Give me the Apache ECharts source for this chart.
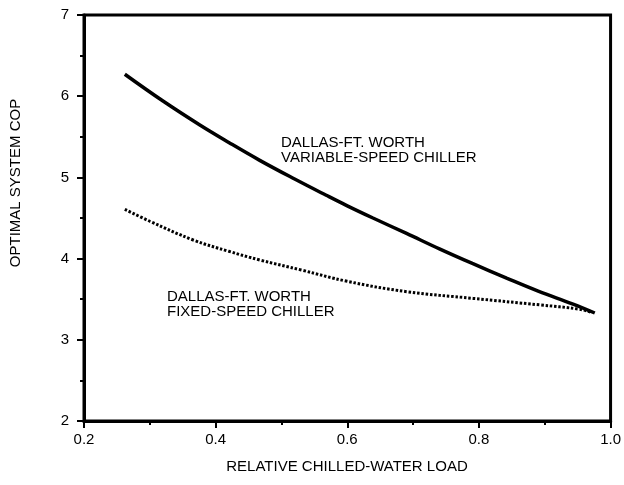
<!DOCTYPE html>
<html>
<head>
<meta charset="utf-8">
<script src="https://cdn.jsdelivr.net/npm/echarts@6/dist/echarts.min.js"></script>
<style>
html,body{margin:0;padding:0;background:#fff;}
#c{width:624px;height:485px;}
</style>
</head>
<body>
<div id="c"></div>
<script>
const variableSpeed = [
  [0.262, 6.27], [0.32, 5.94], [0.376, 5.645], [0.42, 5.43], [0.467, 5.21],
  [0.52, 4.98], [0.568, 4.78], [0.60, 4.65], [0.639, 4.50], [0.69, 4.31],
  [0.740, 4.12], [0.79, 3.94], [0.842, 3.76], [0.89, 3.60], [0.943, 3.44], [0.976, 3.33]
];
const fixedSpeed = [
  [0.262, 4.607], [0.30, 4.46], [0.366, 4.229], [0.42, 4.09], [0.467, 3.983],
  [0.53, 3.86], [0.60, 3.72], [0.690, 3.593], [0.791, 3.51], [0.892, 3.43],
  [0.953, 3.376], [0.972, 3.335]
];
const xTitle = 'RELATIVE CHILLED-WATER LOAD';
const yTitle = 'OPTIMAL SYSTEM COP';
const varLabel = ['DALLAS-FT. WORTH', 'VARIABLE-SPEED CHILLER'];
const fixLabel = ['DALLAS-FT. WORTH', 'FIXED-SPEED CHILLER'];

const FONT = '"Liberation Sans", Arial, Helvetica, sans-serif';
const chart = echarts.init(document.getElementById('c'));
chart.setOption({
  animation: false,
  backgroundColor: '#fff',
  grid: { left: 84, right: 13, top: 15, bottom: 64, show: true, borderColor: '#000', borderWidth: 3 },
  xAxis: {
    type: 'value', min: 0.2, max: 1.0, interval: 0.2,
    axisLine: { show: true, lineStyle: { color: '#000', width: 3 } },
    axisTick: { show: true, length: 7, inside: false, lineStyle: { color: '#000', width: 2 } },
    minorTick: { show: true, splitNumber: 2, length: 4, lineStyle: { color: '#000', width: 2 } },
    splitLine: { show: false },
    axisLabel: { color: '#000', fontSize: 15, fontFamily: FONT, margin: 11, formatter: v => v.toFixed(1) }
  },
  yAxis: {
    type: 'value', min: 2, max: 7, interval: 1,
    axisLine: { show: true, lineStyle: { color: '#000', width: 3 } },
    axisTick: { show: true, length: 7, inside: false, lineStyle: { color: '#000', width: 2 } },
    minorTick: { show: true, splitNumber: 2, length: 4, lineStyle: { color: '#000', width: 2 } },
    splitLine: { show: false },
    axisLabel: { color: '#000', fontSize: 15, fontFamily: FONT, margin: 15 }
  },
  series: [
    { type: 'line', data: variableSpeed, smooth: 0.4, showSymbol: false,
      lineStyle: { color: '#000', width: 3.5 } },
    { type: 'line', data: fixedSpeed, smooth: 0.4, showSymbol: false,
      lineStyle: { color: '#000', width: 3, type: [2.5, 1.8] } }
  ],
  graphic: [
    { type: 'text', x: 347, y: 467, style: { text: xTitle, font: '15px ' + FONT, fill: '#000', textAlign: 'center', textVerticalAlign: 'middle' } },
    { type: 'text', x: 16, y: 183, rotation: Math.PI / 2, style: { text: yTitle, font: '15px ' + FONT, fill: '#000', textAlign: 'center', textVerticalAlign: 'middle' } },
    { type: 'text', x: 281, y: 135, style: { text: varLabel.join('\n'), font: '15px ' + FONT, lineHeight: 15, fill: '#000', textAlign: 'left', textVerticalAlign: 'top' } },
    { type: 'text', x: 167, y: 289, style: { text: fixLabel.join('\n'), font: '15px ' + FONT, lineHeight: 15, fill: '#000', textAlign: 'left', textVerticalAlign: 'top' } }
  ]
});
</script>
</body>
</html>
